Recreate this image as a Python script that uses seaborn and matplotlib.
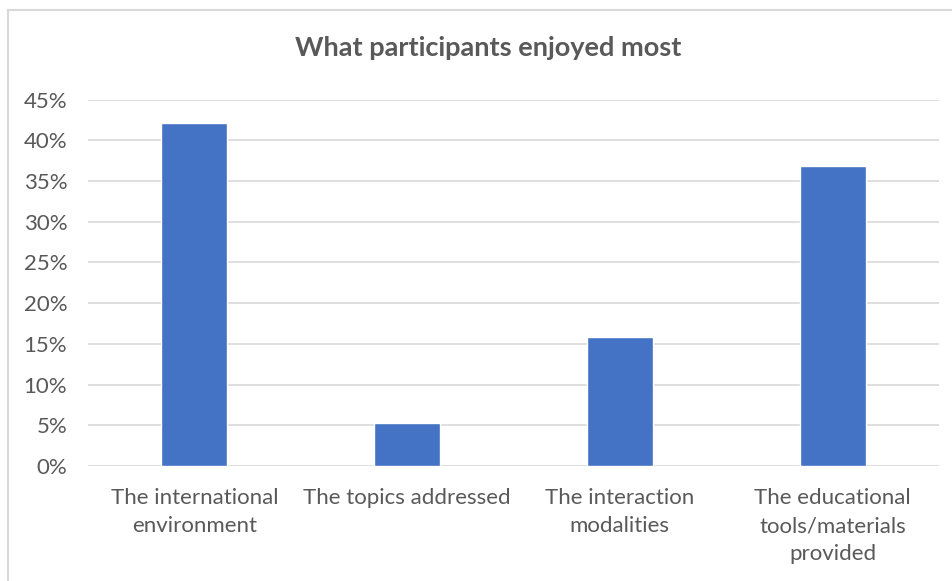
import matplotlib
matplotlib.use("Agg")
import matplotlib.pyplot as plt
import seaborn as sns
import pandas as pd
from matplotlib.patches import Rectangle
from matplotlib.ticker import PercentFormatter, MultipleLocator

categories = ["The international\nenvironment", "The topics addressed",
              "The interaction\nmodalities", "The educational\ntools/materials\nprovided"]
values = [0.421, 0.053, 0.158, 0.368]

sns.set_theme(style="white")
plt.rcParams['font.family'] = ['Lato', 'DejaVu Sans']

df = pd.DataFrame({"category": categories, "value": values})

fig = plt.figure(figsize=(9.53, 5.81), dpi=100)
ax = fig.add_axes([88/953, 1-466/581, (939-88)/953, (466-99.5)/581])

sns.barplot(data=df, x="category", y="value", color="#4472C4", width=0.31,
            saturation=1, ax=ax, zorder=3)

ax.set_ylim(0, 0.45)
ax.yaxis.set_major_locator(MultipleLocator(0.05))
ax.yaxis.set_major_formatter(PercentFormatter(1.0, decimals=0))
ax.grid(axis="y", color="#D9D9D9", linewidth=1.2, zorder=0)
ax.set_axisbelow(True)
for s in ax.spines.values():
    s.set_visible(False)
ax.set_xlabel("")
ax.set_ylabel("")
ax.tick_params(axis="both", length=0, labelsize=16, colors="#595959")
ax.tick_params(axis="y", pad=15)
ax.tick_params(axis="x", pad=16)
for lbl in ax.get_xticklabels():
    lbl.set_linespacing(1.5)

fig.text(488/953, 1-48/581, "What participants enjoyed most", ha="center", va="center",
         fontsize=19.5, fontweight="bold", color="#595959")

fig.add_artist(Rectangle((8/953, -0.1), 1.2, 1.1 - 10/581, transform=fig.transFigure,
                         fill=False, edgecolor="#D9D9D9", linewidth=1.5))

fig.savefig("out.png", dpi=100)
